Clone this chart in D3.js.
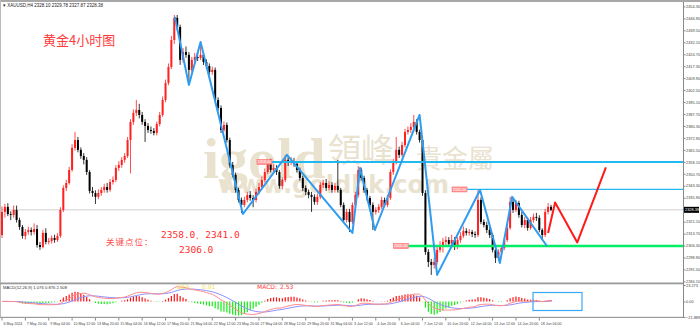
<!DOCTYPE html>
<html>
<head>
<meta charset="utf-8">
<script src="https://cdn.jsdelivr.net/npm/d3@7"></script>
<style>
  body { margin: 0; background: #fff; }
  svg { display: block; }
  text { font-family: "DejaVu Sans", sans-serif; }
</style>
</head>
<body>
<div id="chart"></div>
<script>
// XAUUSD H4 bars, 6 May - 18 Jun 2024
var firstOpen = 2312.8;
var closes = [2327.1,2330.2,2325.8,2325.2,2328.3,2322.1,2317.8,2312.2,2314.7,2315.9,
  2314.7,2316.5,2306.6,2305.4,2314.1,2308.5,2309.1,2311.0,2309.7,2312.2,
  2328.3,2341.9,2345.0,2353.1,2366.7,2371.6,2365.5,2361.7,2359.3,2351.8,
  2340.1,2338.8,2336.4,2338.8,2340.7,2342.5,2340.7,2345.6,2346.9,2354.3,
  2356.2,2359.3,2361.7,2371.6,2382.8,2388.4,2390.2,2387.1,2382.8,2380.3,
  2377.8,2377.2,2376.0,2381.5,2387.1,2396.4,2406.9,2416.8,2433.5,2447.2,
  2441.6,2421.2,2426.1,2424.3,2415.0,2421.2,2423.0,2422.4,2424.3,2419.9,
  2417.4,2413.7,2415.0,2396.4,2391.4,2377.8,2380.9,2371.6,2356.2,2350.0,
  2340.7,2334.5,2331.4,2334.5,2337.6,2335.7,2334.5,2339.5,2342.5,2346.9,
  2351.8,2357.4,2353.1,2354.3,2351.8,2343.2,2346.9,2359.3,2357.4,2358.6,
  2356.8,2353.1,2348.1,2341.9,2339.5,2337.6,2336.4,2333.3,2336.4,2343.8,
  2345.0,2341.9,2343.8,2340.7,2343.2,2340.7,2331.4,2322.1,2327.1,2320.9,
  2331.4,2337.6,2353.1,2348.1,2340.7,2335.7,2331.4,2327.1,2328.3,2330.2,
  2334.5,2331.4,2335.7,2351.8,2358.0,2365.5,2362.4,2368.5,2376.6,2377.8,
  2379.7,2382.8,2376.6,2371.6,2338.8,2302.3,2296.1,2294.3,2296.1,2303.6,
  2306.6,2308.5,2309.7,2307.3,2309.7,2305.4,2309.7,2312.2,2315.3,2314.1,
  2314.7,2313.4,2312.8,2334.5,2320.9,2319.0,2315.9,2312.8,2303.6,2298.6,
  2302.3,2304.8,2309.7,2317.2,2333.3,2328.3,2332.6,2325.2,2319.0,2322.1,
  2317.2,2322.1,2324.0,2323.4,2315.9,2312.8,2327.1,2330.2,2328.4];
var highs = [2330.5,2332.0,2332.5,2327.5,2331.0,2331.0,2323.5,2319.0,2316.5,2318.0,
  2317.5,2320.0,2319.0,2308.5,2316.0,2317.0,2311.0,2312.5,2313.0,2314.0,
  2330.0,2343.5,2347.0,2355.0,2369.0,2376.6,2373.5,2367.0,2363.5,2361.0,
  2353.0,2342.5,2340.5,2341.0,2342.5,2344.5,2345.0,2347.5,2349.0,2356.0,
  2358.5,2361.0,2363.5,2373.5,2384.5,2390.5,2396.4,2394.0,2389.0,2384.5,
  2382.0,2380.0,2379.0,2383.0,2389.0,2398.5,2409.0,2419.0,2436.0,2449.0,
  2449.0,2443.0,2428.5,2429.5,2426.0,2423.0,2425.5,2426.0,2432.3,2426.0,
  2421.5,2419.0,2417.0,2416.5,2398.0,2393.0,2383.0,2382.5,2373.0,2358.0,
  2351.5,2342.0,2336.0,2336.5,2339.5,2340.0,2337.5,2341.5,2345.0,2349.0,
  2354.0,2359.5,2360.0,2356.5,2356.0,2353.0,2348.5,2362.4,2361.0,2361.0,
  2360.5,2358.0,2354.5,2349.5,2343.5,2341.0,2339.5,2338.0,2338.5,2345.5,
  2347.0,2347.5,2346.0,2345.5,2345.0,2359.3,2342.0,2333.0,2329.0,2329.0,
  2333.0,2339.5,2355.5,2354.5,2349.5,2342.0,2337.0,2333.0,2330.0,2332.0,
  2336.5,2336.0,2337.5,2353.5,2360.0,2373.5,2367.5,2370.5,2378.5,2380.0,
  2382.0,2387.1,2384.5,2378.0,2373.0,2340.5,2304.0,2298.0,2299.0,2306.0,
  2309.0,2311.0,2312.0,2311.5,2313.0,2311.5,2311.5,2314.5,2318.0,2317.0,
  2316.5,2316.0,2315.0,2340.7,2336.0,2322.5,2321.0,2317.5,2314.0,2305.0,
  2304.0,2306.5,2311.5,2319.0,2336.4,2335.0,2334.5,2334.0,2327.0,2324.0,
  2323.5,2324.0,2326.0,2326.5,2325.0,2317.0,2329.0,2332.6,2331.5];
var lows = [2311.0,2323.5,2324.5,2322.0,2323.5,2320.5,2316.0,2310.5,2310.0,2313.0,
  2312.5,2313.0,2305.0,2303.6,2304.5,2307.0,2307.0,2307.5,2308.0,2308.5,
  2311.0,2327.0,2340.0,2344.0,2352.0,2365.0,2364.0,2360.0,2356.5,2350.0,
  2338.5,2336.5,2332.0,2335.0,2337.0,2339.0,2339.0,2339.5,2344.0,2345.5,
  2352.5,2354.5,2357.5,2360.5,2351.0,2381.0,2386.5,2385.0,2381.0,2370.4,
  2376.0,2375.5,2374.5,2374.5,2380.0,2386.0,2395.0,2405.5,2415.5,2431.0,
  2439.5,2418.1,2419.5,2422.5,2405.7,2413.5,2419.5,2420.5,2421.0,2418.0,
  2415.5,2412.0,2412.0,2395.0,2389.5,2376.0,2376.5,2370.0,2354.5,2348.5,
  2339.0,2333.0,2326.4,2330.0,2333.0,2334.0,2330.0,2333.0,2338.0,2341.0,
  2345.5,2350.5,2351.5,2351.5,2350.0,2341.5,2341.0,2345.5,2355.5,2356.0,
  2355.0,2351.5,2346.5,2340.0,2337.5,2335.5,2327.1,2331.5,2331.5,2335.0,
  2342.0,2340.0,2340.5,2339.0,2339.0,2339.0,2330.0,2320.5,2320.5,2314.7,
  2319.5,2330.0,2336.0,2346.5,2339.0,2334.0,2330.0,2315.9,2325.5,2326.5,
  2329.0,2330.0,2330.0,2334.5,2350.0,2356.5,2360.5,2361.0,2367.0,2375.0,
  2376.0,2378.5,2375.0,2370.0,2337.0,2300.5,2293.0,2288.1,2292.0,2294.5,
  2302.0,2302.0,2306.5,2305.5,2306.0,2303.5,2304.0,2308.0,2311.0,2312.5,
  2312.5,2311.5,2311.0,2311.5,2319.5,2317.5,2314.0,2311.0,2302.0,2295.5,
  2297.0,2301.0,2303.5,2308.5,2316.0,2326.5,2327.0,2323.5,2317.5,2317.0,
  2315.5,2316.0,2320.5,2321.5,2314.5,2309.7,2311.5,2325.5,2327.5];

// time axis labels (bar index, text)
var timeTickBars = [0,8,16,24,32,40,48,56,64,72,80,88,96,104,112,120,128,136,144,152,160,168,176,184];
var timeTickLabels = ["6 May 2024","7 May 20:00","9 May 04:00","10 May 12:00","13 May 20:00","15 May 04:00",
  "16 May 12:00","17 May 20:00","21 May 04:00","22 May 12:00","23 May 20:00","27 May 04:00",
  "28 May 12:00","29 May 20:00","31 May 04:00","3 Jun 12:00","4 Jun 20:00","6 Jun 04:00",
  "7 Jun 12:00","10 Jun 20:00","12 Jun 04:00","13 Jun 12:00","14 Jun 20:00","18 Jun 04:00"];
var priceTicks = [2454.30,2446.90,2439.50,2432.10,2424.70,2417.30,2409.90,2402.50,2395.10,2387.70,
  2380.30,2372.90,2365.50,2358.10,2350.70,2343.30,2335.90,2321.10,2313.70,2306.30,
  2298.90,2291.50,2284.10];
var macdTicks = [23.273, 0.00, -21.889];

// wave count drawn on the chart (bar index, price)
var waveBars   = [59.2,64,68,82.5,97.6,120,122.6,127.7,143,149,163.7,170.5,174.7,186.6];
var wavePrices = [2447.8,2405.7,2432.3,2325.8,2362.4,2314.1,2354.3,2315.9,2387.1,2288.1,2340.7,2295.5,2336.4,2306.0];
// projected path (red)
var forecastBars   = [187,189.4,197,206.8];
var forecastPrices = [2314.1,2332.9,2308.2,2354.6];

// key levels and the bar where each line starts
var levelPrices = [2358.0, 2341.0, 2306.0];
var levelStartBars = [87.3, 154.1, 134.0];
var lastPrice = 2328.38;

var width = 700, height = 328;
var plotRight = 683;
var axisFont = "Liberation Sans, Arial, sans-serif";

var svg = d3.select("#chart").append("svg")
  .attr("width", width).attr("height", height);

var x = d3.scaleLinear().domain([0, 188]).range([2, 551]);
var y = d3.scaleLinear().domain([2283.1, 2456.4]).range([283, 3]);
var ym = d3.scaleLinear().domain([-21.889, 23.273]).range([317, 285]);

/* frame */
svg.append("rect").attr("x", 0).attr("y", 0).attr("width", width).attr("height", 2).attr("fill", "#a8a8a8");
svg.append("line").attr("x1", 0.5).attr("x2", 0.5).attr("y1", 0).attr("y2", 318).attr("stroke", "#bbb");

/* watermark */
var wm = svg.append("g").attr("fill", "#e9e2cf");
wm.append("text").attr("x", 203).attr("y", 178).style("font-family", "Liberation Serif, serif")
  .style("font-size", "58px").style("font-weight", "bold").text("igold");
wm.append("text").attr("x", 328).attr("y", 162).style("font-family", "Noto Sans CJK TC")
  .style("font-size", "33px").text("領峰");
wm.append("text").attr("x", 416).attr("y", 168).style("font-family", "Noto Sans CJK TC")
  .style("font-size", "26px").text("貴金屬");
wm.append("text").attr("x", 218).attr("y", 193).style("font-family", "DejaVu Sans")
  .style("font-size", "24px").style("font-weight", "bold").text("www.goldhk.com");

/* current price line */
svg.append("line").attr("x1", 0).attr("x2", plotRight).attr("y1", y(lastPrice)).attr("y2", y(lastPrice))
  .attr("stroke", "#cfcfcf").attr("stroke-width", 1);

/* candles */
var bars = closes.map(function(c, i) {
  return {i: i, o: i ? closes[i - 1] : firstOpen, c: c, h: highs[i], l: lows[i]};
});
var cg = svg.append("g");
cg.selectAll(".wick").data(bars).enter().append("line")
  .attr("x1", d => x(d.i)).attr("x2", d => x(d.i))
  .attr("y1", d => y(d.h)).attr("y2", d => y(d.l))
  .attr("stroke", d => d.c >= d.o ? "#ff2020" : "#000").attr("stroke-width", 0.8);
cg.selectAll(".body").data(bars).enter().append("rect")
  .attr("x", d => x(d.i) - 1).attr("width", 2)
  .attr("y", d => y(Math.max(d.o, d.c)))
  .attr("height", d => Math.max(0.8, Math.abs(y(d.o) - y(d.c))))
  .attr("fill", d => d.c >= d.o ? "#ff2020" : "#000");

/* key level lines */
var levelColors = ["#22b8f0", "#22b8f0", "#00ee66"];
var levelWidths = [2, 1.2, 2.5];
levelPrices.forEach(function(p, k) {
  var x0 = x(levelStartBars[k]);
  svg.append("line").attr("x1", x0 + 15).attr("x2", plotRight).attr("y1", y(p)).attr("y2", y(p))
    .attr("stroke", levelColors[k]).attr("stroke-width", levelWidths[k]);
  svg.append("rect").attr("x", x0).attr("y", y(p) - 2.5).attr("width", 15).attr("height", 5)
    .attr("fill", "#ff9a9a").attr("stroke", "#ff5a5a").attr("stroke-width", 0.5);
  svg.append("text").attr("x", x0 + 7.5).attr("y", y(p) + 1.4).attr("text-anchor", "middle")
    .style("font-family", axisFont).style("font-size", "3.8px").attr("fill", "#fff").text(p.toFixed(2));
});

/* wave line */
var line = d3.line().x(d => x(d[0])).y(d => y(d[1]));
svg.append("path").attr("d", line(waveBars.map((b, k) => [b, wavePrices[k]])))
  .attr("fill", "none").attr("stroke", "#2e9cf0").attr("stroke-width", 2).attr("stroke-linejoin", "round");
svg.append("path").attr("d", line(forecastBars.map((b, k) => [b, forecastPrices[k]])))
  .attr("fill", "none").attr("stroke", "#ff1a1a").attr("stroke-width", 2).attr("stroke-linejoin", "round");

/* texts */
svg.append("text").attr("x", 3).attr("y", 6.5).style("font-family", axisFont).style("font-size", "4.5px").attr("fill", "#222")
  .text("▾ XAUUSD,H4  2328.10 2329.78 2327.87 2328.38");
svg.append("text").attr("x", 43).attr("y", 45).style("font-family", "Noto Sans CJK SC")
  .style("font-size", "13px").attr("fill", "#ff3b3b").text("黄金4小时图");
svg.append("text").attr("x", 106).attr("y", 245).style("font-family", "Noto Sans CJK SC")
  .style("font-size", "8.5px").attr("fill", "#ff4a4a").attr("letter-spacing", "1px").text("关键点位：");
svg.append("text").attr("x", 161).attr("y", 237.5).style("font-family", "DejaVu Sans Mono")
  .style("font-size", "9.5px").attr("fill", "#ff3030").text("2358.0、2341.0");
svg.append("text").attr("x", 179).attr("y", 253).style("font-family", "DejaVu Sans Mono")
  .style("font-size", "9.5px").attr("fill", "#ff3030").text("2306.0");

/* MACD (12,26,9) from the closes */
function ema(arr, n) {
  var k = 2 / (n + 1), prev = arr[0];
  return arr.map(function(v, i) { prev = i ? v * k + prev * (1 - k) : v; return prev; });
}
var e12 = ema(closes, 12), e26 = ema(closes, 26);
var dif = e12.map((v, i) => v - e26[i]);
var dea = ema(dif, 9);
var hist = dif.map((v, i) => 2 * (v - dea[i]));

var mg = svg.append("g");
mg.selectAll(".h").data(hist).enter().append("line")
  .attr("x1", (d, i) => x(i)).attr("x2", (d, i) => x(i))
  .attr("y1", ym(0)).attr("y2", d => ym(d))
  .attr("stroke", d => d >= 0 ? "#ff1010" : "#10ee10").attr("stroke-width", 1.2);
var mline = d3.line().x((d, i) => x(i)).y(d => ym(d));
mg.append("path").attr("d", mline(dea)).attr("fill", "none").attr("stroke", "#8f8fff").attr("stroke-width", 1);
mg.append("path").attr("d", mline(dif)).attr("fill", "none").attr("stroke", "#ff8c8c").attr("stroke-width", 1);
svg.append("rect").attr("x", 533).attr("y", 292.5).attr("width", 49).attr("height", 18)
  .attr("fill", "none").attr("stroke", "#3aa8f5").attr("stroke-width", 1.2);

svg.append("text").attr("x", 3).attr("y", 289).style("font-family", axisFont).style("font-size", "4.2px").attr("fill", "#333")
  .text("MACD(12,26,9) 1.076 0.876 2.508");
svg.append("text").attr("x", 177).attr("y", 289).style("font-size", "6px").attr("fill", "#f0e060").text("DEA:");
svg.append("text").attr("x", 202).attr("y", 289).style("font-size", "6px").attr("fill", "#f0e060").text("0.91");
svg.append("text").attr("x", 257).attr("y", 289).style("font-size", "6px").attr("fill", "#ff4040").text("MACD:");
svg.append("text").attr("x", 280).attr("y", 289).style("font-size", "6px").attr("fill", "#ff4040").text("2.53");

/* panel separators and price axis */
svg.append("rect").attr("x", 0).attr("y", 282.5).attr("width", plotRight).attr("height", 1.8).attr("fill", "#9a9a9a");
svg.append("rect").attr("x", 0).attr("y", 316.8).attr("width", plotRight).attr("height", 1.2).attr("fill", "#9a9a9a");
svg.append("line").attr("x1", plotRight + 0.5).attr("x2", plotRight + 0.5).attr("y1", 2).attr("y2", 318)
  .attr("stroke", "#888");

var yAxis = d3.axisRight(y).tickValues(priceTicks).tickSize(2).tickFormat(d3.format(".2f"));
var ga = svg.append("g").attr("transform", "translate(" + (plotRight + 0.5) + ",0)").call(yAxis);
ga.select(".domain").remove();
ga.selectAll("text").style("font-family", axisFont).style("font-size", "3.9px").attr("fill", "#444").attr("x", 2.5);
ga.selectAll("line").attr("stroke", "#888");

var mAxis = d3.axisRight(ym).tickValues(macdTicks).tickSize(2).tickFormat(d => d === 0 ? "0.00" : d3.format(".3f")(d));
var gm = svg.append("g").attr("transform", "translate(" + (plotRight + 0.5) + ",0)").call(mAxis);
gm.select(".domain").remove();
gm.selectAll("text").style("font-family", axisFont).style("font-size", "3.9px").attr("fill", "#444").attr("x", 2.5);
gm.selectAll("line").attr("stroke", "#888");

svg.append("rect").attr("x", plotRight + 1).attr("y", y(lastPrice) - 3).attr("width", 15).attr("height", 6).attr("fill", "#000");
svg.append("text").attr("x", plotRight + 2).attr("y", y(lastPrice) + 1.4).style("font-family", axisFont)
  .style("font-size", "3.9px").attr("fill", "#fff").text(lastPrice.toFixed(2));

/* time axis */
var tg = svg.append("g");
timeTickBars.forEach(function(b, k) {
  tg.append("line").attr("x1", x(b)).attr("x2", x(b)).attr("y1", 318).attr("y2", 320.5).attr("stroke", "#888");
  tg.append("text").attr("x", x(b) + 1.5).attr("y", 324.5).style("font-family", axisFont)
    .style("font-size", "3.6px").attr("fill", "#444").text(timeTickLabels[k]);
});
</script>
</body>
</html>
